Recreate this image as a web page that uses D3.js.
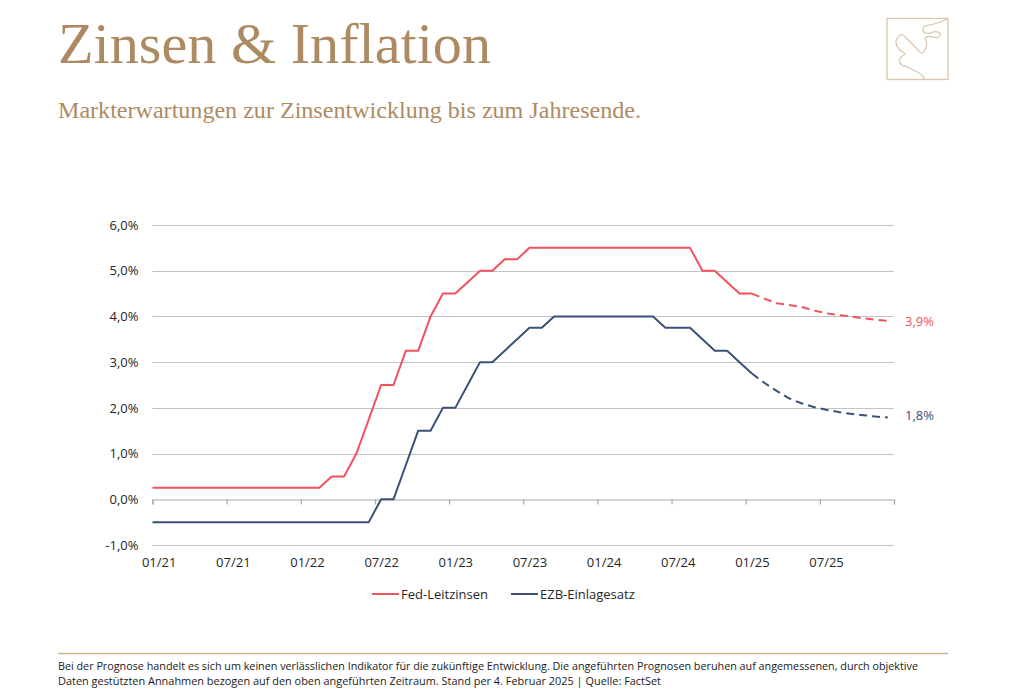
<!DOCTYPE html>
<html><head><meta charset="utf-8">
<script src="https://cdn.jsdelivr.net/npm/d3@7"></script>
<style>html,body{margin:0;padding:0;background:#fff;}svg{display:block;}</style>
</head><body>
<svg id="chart" width="1024" height="698"></svg>
<script>
// ---- Data ----
const months = ["01/21","02/21","03/21","04/21","05/21","06/21","07/21","08/21","09/21","10/21","11/21","12/21",
"01/22","02/22","03/22","04/22","05/22","06/22","07/22","08/22","09/22","10/22","11/22","12/22",
"01/23","02/23","03/23","04/23","05/23","06/23","07/23","08/23","09/23","10/23","11/23","12/23",
"01/24","02/24","03/24","04/24","05/24","06/24","07/24","08/24","09/24","10/24","11/24","12/24",
"01/25","02/25","03/25","04/25","05/25","06/25","07/25","08/25","09/25","10/25","11/25","12/25"];
const tickLabels = ["01/21","07/21","01/22","07/22","01/23","07/23","01/24","07/24","01/25","07/25"];
const yTicks = [-1,0,1,2,3,4,5,6];
// Actual values 01/21 .. 01/25 (month-end, %)
const fedActual = [0.25,0.25,0.25,0.25,0.25,0.25,0.25,0.25,0.25,0.25,0.25,0.25,0.25,0.25,
  0.5,0.5,1.0,1.75,2.5,2.5,3.25,3.25,4.0,4.5,
  4.5,4.75,5.0,5.0,5.25,5.25,5.5,
  5.5,5.5,5.5,5.5,5.5,5.5,5.5,5.5,5.5,5.5,5.5,5.5,5.5,
  5.0,5.0,4.75,4.5,
  4.5];
const ecbActual = [-0.5,-0.5,-0.5,-0.5,-0.5,-0.5,-0.5,-0.5,-0.5,-0.5,-0.5,-0.5,-0.5,-0.5,-0.5,-0.5,-0.5,-0.5,
  0.0,0.0,0.75,1.5,1.5,2.0,
  2.0,2.5,3.0,3.0,3.25,3.5,3.75,3.75,4.0,
  4.0,4.0,4.0,4.0,4.0,4.0,4.0,4.0,
  3.75,3.75,3.75,3.5,3.25,3.25,3.0,
  2.75];
// Market expectations 01/25 .. 12/25
const fedForecast = [4.5,4.39,4.29,4.25,4.21,4.13,4.07,4.03,4.0,3.96,3.93,3.9];
const ecbForecast = [2.75,2.55,2.37,2.21,2.1,2.02,1.96,1.91,1.87,1.84,1.81,1.79];
const seriesNames = ["Fed-Leitzinsen","EZB-Einlagesatz"];
const endLabels = ["3,9%","1,8%"];

// ---- Styles ----
const RED = "#f2525c", BLUE = "#3b5078", GOLD = "#ad8a61", LOGO = "#d9c6ab";
const svg = d3.select("#chart");
svg.append("rect").attr("width",1024).attr("height",698).attr("fill","#fff");

// Title & subtitle
svg.append("text").attr("x",58).attr("y",63)
  .attr("font-family","'Liberation Serif','DejaVu Serif',serif").attr("font-size",58)
  .attr("fill",GOLD).attr("textLength",433).attr("lengthAdjust","spacingAndGlyphs")
  .text("Zinsen & Inflation");
svg.append("text").attr("x",58).attr("y",118)
  .attr("font-family","'Liberation Serif','DejaVu Serif',serif").attr("font-size",24)
  .attr("fill",GOLD).attr("textLength",583).attr("lengthAdjust","spacingAndGlyphs")
  .text("Markterwartungen zur Zinsentwicklung bis zum Jahresende.");

// Logo
const logo = svg.append("g");
logo.append("rect").attr("x",887).attr("y",18.5).attr("width",61).attr("height",61)
  .attr("fill","none").attr("stroke",LOGO).attr("stroke-width",1.3);
const logoPts = [[925,80],[921.7,75],[913.3,70],[906.7,66.7],[901.7,65],[899.3,60],[901.7,56.7],[905,54],
 [900,50],[896,43.3],[897.3,38.3],[901.7,34.3],[905,36.7],[908.3,40],[913.3,45],[918.3,50],[921.7,53.3],
 [925,50],[926.7,43.3],[925,38.3],[928.3,36.7],[938.3,37.3],[940,33.3],[935,31.7],[928.3,33.3],[923.3,31.7],
 [924,26.7],[930,25],[936.7,23.3],[943.3,20.7],[948,19]];
logo.append("path").attr("d",d3.line().curve(d3.curveCatmullRom)(logoPts))
  .attr("fill","none").attr("stroke",LOGO).attr("stroke-width",1.2);

// Scales
const x = d3.scaleLinear().domain([0, months.length]).range([152.5, 894]);
const y = d3.scaleLinear().domain([-1, 6]).range([545, 225]);
const FONT = "'Open Sans','Noto Sans',sans-serif";

// Gridlines
const grid = svg.append("g");
grid.selectAll("line").data(yTicks.filter(d=>d!==0)).join("line")
  .attr("x1",x(0)).attr("x2",x(months.length))
  .attr("y1",d=>Math.round(y(d))+0.5).attr("y2",d=>Math.round(y(d))+0.5)
  .attr("stroke","#c3c3c3").attr("stroke-width",1);

// Y labels
const yAxis = d3.axisLeft(y).tickValues(yTicks).tickSize(0).tickPadding(14)
  .tickFormat(d => d.toFixed(1).replace(".",",") + "%");
const yg = svg.append("g").attr("transform","translate(152.5,0)").call(yAxis);
yg.select(".domain").remove();
yg.selectAll("text").attr("font-family",FONT).attr("font-size",13).attr("fill","#262626");

// Zero axis with tick marks (every 6 months)
const tickIdx = d3.range(0, months.length + 1, 6);
const xAxisTicks = d3.axisBottom(x).tickValues(tickIdx).tickSize(5).tickFormat("");
const zg = svg.append("g").attr("transform",`translate(0,${Math.round(y(0))+0.5})`).call(xAxisTicks);
zg.select(".domain").attr("stroke","#a9a9a9").attr("stroke-width",1.2);
zg.selectAll(".tick line").attr("stroke","#a9a9a9").attr("stroke-width",1.2);

// X labels (centered on month) at bottom
const labelIdx = tickLabels.map(l => months.indexOf(l));
const xAxisLabels = d3.axisBottom(x).tickValues(labelIdx.map(i=>i+0.5)).tickSize(0).tickPadding(13)
  .tickFormat(d => months[Math.floor(d)]);
const xg = svg.append("g").attr("transform",`translate(0,${y(-1)})`).call(xAxisLabels);
xg.select(".domain").remove();
xg.selectAll("text").attr("font-family",FONT).attr("font-size",13).attr("fill","#262626");

// Lines
const toPts = (vals, start) => vals.map((v,i)=>({i:start+i+0.5, v}));
const withLead = (vals) => [{i:0, v:vals[0]}].concat(toPts(vals,0));
const line = d3.line().x(d=>x(d.i)).y(d=>y(d.v));
const fcStart = months.indexOf("01/25");

svg.append("path").attr("d",line(withLead(fedActual))).attr("fill","none")
  .attr("stroke",RED).attr("stroke-width",2).attr("stroke-linejoin","round");
svg.append("path").attr("d",line(withLead(ecbActual))).attr("fill","none")
  .attr("stroke",BLUE).attr("stroke-width",2).attr("stroke-linejoin","round");
svg.append("path").attr("d",line(toPts(fedForecast,fcStart))).attr("fill","none")
  .attr("stroke",RED).attr("stroke-width",2).attr("stroke-dasharray","8,5");
svg.append("path").attr("d",line(toPts(ecbForecast,fcStart))).attr("fill","none")
  .attr("stroke",BLUE).attr("stroke-width",2).attr("stroke-dasharray","8,5");

// End labels
svg.append("text").attr("x",905).attr("y",y(fedForecast[fedForecast.length-1]))
  .attr("dy","0.35em").attr("font-family",FONT).attr("font-size",13).attr("fill",RED).text(endLabels[0]);
svg.append("text").attr("x",905).attr("y",y(ecbForecast[ecbForecast.length-1]))
  .attr("dy","0.2em").attr("font-family",FONT).attr("font-size",13).attr("fill",BLUE).text(endLabels[1]);

// Legend
const legend = [{name:seriesNames[0], c:RED, x:372},{name:seriesNames[1], c:BLUE, x:511}];
const lg = svg.append("g").selectAll("g").data(legend).join("g").attr("transform",d=>`translate(${d.x},594)`);
lg.append("line").attr("x1",0).attr("x2",27).attr("stroke",d=>d.c).attr("stroke-width",2);
lg.append("text").attr("x",29).attr("dy","0.35em").attr("font-family",FONT).attr("font-size",13)
  .attr("fill","#262626").text(d=>d.name);

// Footer
svg.append("line").attr("x1",58).attr("x2",948).attr("y1",653.5).attr("y2",653.5)
  .attr("stroke","#cdb493").attr("stroke-width",1.5);
svg.append("text").attr("x",58).attr("y",670).attr("font-family",FONT).attr("font-size",10.5)
  .attr("fill","#1a1a1a").attr("textLength",860).attr("lengthAdjust","spacingAndGlyphs")
  .text("Bei der Prognose handelt es sich um keinen verlässlichen Indikator für die zukünftige Entwicklung. Die angeführten Prognosen beruhen auf angemessenen, durch objektive");
svg.append("text").attr("x",58).attr("y",685).attr("font-family",FONT).attr("font-size",10.5)
  .attr("fill","#1a1a1a").attr("textLength",603).attr("lengthAdjust","spacingAndGlyphs")
  .text("Daten gestützten Annahmen bezogen auf den oben angeführten Zeitraum. Stand per 4. Februar 2025 | Quelle: FactSet");
</script>
</body></html>
